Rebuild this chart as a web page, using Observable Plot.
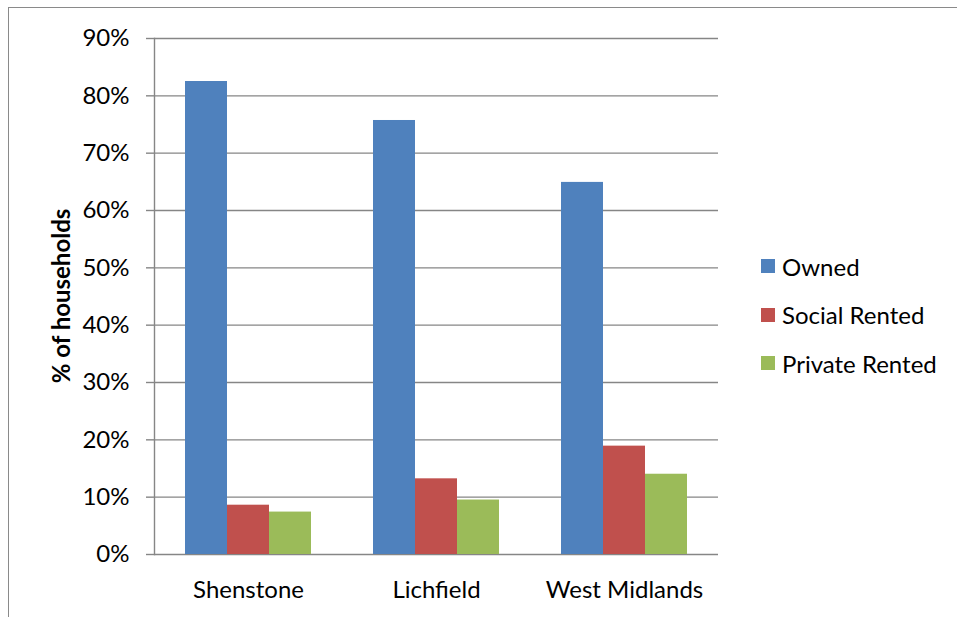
<!DOCTYPE html>
<html>
<head>
<meta charset="utf-8">
<script src="https://cdn.jsdelivr.net/npm/d3@7"></script>
<script src="https://cdn.jsdelivr.net/npm/@observablehq/plot@0.6"></script>
<style>
  html, body { margin: 0; padding: 0; background: #fff; }
  #chart { position: relative; width: 957px; height: 617px; overflow: hidden; font-family: Lato, "Open Sans", sans-serif; }
  #chart .border { position: absolute; left: 8px; top: 7px; right: -4px; bottom: -4px; border-top: 1.5px solid #8a8a8a; border-left: 1.5px solid #8a8a8a; }
  #chart svg { position: absolute; left: 0; top: 0; }
  .ylabel { position: absolute; left: 60px; top: 296px; transform: translate(-50%, -50%) rotate(-90deg); font-size: 24px; font-weight: bold; white-space: nowrap; color: #000; }
  .legend { position: absolute; left: 761px; top: 242px; }
  .legend .item { display: flex; align-items: center; height: 48.5px; font-size: 24px; color: #000; }
  .legend .swatch { width: 14px; height: 14px; margin-right: 7px; }
</style>
</head>
<body>
<div id="chart"><div class="border"></div></div>
<script>
// Household tenure by area (% of households)
const regions = ["Shenstone", "Lichfield", "West Midlands"];
const tenures = ["Owned", "Social Rented", "Private Rented"];
const owned = [82.5, 75.7, 64.9];
const socialRented = [8.6, 13.2, 18.9];
const privateRented = [7.4, 9.5, 14.0];
const yTicks = [0, 10, 20, 30, 40, 50, 60, 70, 80, 90];
const yTitle = "% of households";
const colors = ["#4F81BD", "#C0504D", "#9BBB59"];

const series = [owned, socialRented, privateRented];
const rows = regions.flatMap((region, i) =>
  tenures.map((tenure, j) => ({region, tenure, value: series[j][i]}))
);

const grey = "#868686";

const plot = Plot.plot({
  width: 957,
  height: 617,
  marginLeft: 154,
  marginRight: 239,
  marginTop: 38,
  marginBottom: 63,
  style: {fontFamily: "Lato, 'Open Sans', sans-serif", fontSize: "24px", color: "#000", background: "transparent", overflow: "visible"},
  fx: {domain: regions, padding: 0, label: null},
  x: {domain: tenures, paddingInner: 0, paddingOuter: 0.738, axis: null},
  y: {domain: [0, 90]},
  color: {domain: tenures, range: colors},
  marks: [
    Plot.gridY(yTicks, {stroke: grey, strokeOpacity: 1, strokeWidth: 1.4}),
    Plot.barY(rows, {fx: "region", x: "tenure", y: "value", fill: "tenure", inset: 0}),
    Plot.frame({anchor: "left", facetAnchor: "left", stroke: grey, strokeWidth: 1.4}),
    Plot.axisY(yTicks, {
      anchor: "left",
      tickSize: 8,
      tickPadding: 17,
      stroke: grey,
      strokeWidth: 1.4,
      tickFormat: d => d + "%",
      label: null
    }),
    Plot.axisFx({anchor: "bottom", tickSize: 0, tickPadding: 26, label: null})
  ]
});

const chart = document.getElementById("chart");
chart.appendChild(plot);

// Vertical axis title
const ylab = document.createElement("div");
ylab.className = "ylabel";
ylab.textContent = yTitle;
chart.appendChild(ylab);

// Legend
const legend = document.createElement("div");
legend.className = "legend";
tenures.forEach((t, i) => {
  const item = document.createElement("div");
  item.className = "item";
  const sw = document.createElement("span");
  sw.className = "swatch";
  sw.style.background = colors[i];
  const label = document.createElement("span");
  label.textContent = t;
  item.append(sw, label);
  legend.appendChild(item);
});
chart.appendChild(legend);
</script>
</body>
</html>
